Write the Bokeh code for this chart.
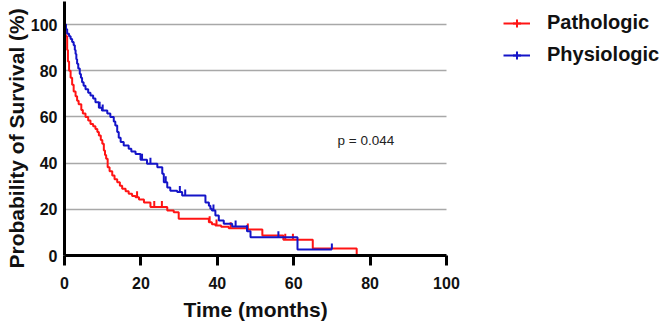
import numpy as np
from bokeh.plotting import figure
from bokeh.models import Legend, LegendItem, Label, FixedTicker, Range1d, Title
from bokeh.embed import file_html
from bokeh.resources import INLINE

# ---- data ----
path_t = [0, 0.3, 0.7, 0.9, 1.2, 1.6, 2.0, 2.4, 2.9, 3.3, 3.7, 4.4, 4.8, 5.5, 6.2, 6.8, 7.5, 8.1, 8.6,
          9.0, 9.5, 9.9, 10.3, 10.6, 10.9, 11.3, 11.8, 12.5, 13.1, 13.8, 14.5, 15.1, 16.0, 16.8, 17.7,
          18.6, 19.5, 20.8, 22.5, 26.9, 28.6, 29.9, 37.8, 38.6, 39.5, 41.0, 43.0, 47.8, 51.8, 57.3,
          65.0, 76.5]
path_s = [100, 95, 89, 84, 80, 77, 74, 71, 69, 67, 65.5, 63, 61.5, 60, 58.5, 57, 56, 54.8, 53.5,
          52, 50, 48.4, 45.5, 43.5, 41.9, 38.2, 36.5, 34.6, 33, 31.7, 30.2, 28.9, 27.8, 26.7, 25.8,
          25.2, 24.2, 23, 21, 19.5, 18.7, 15.9, 14.4, 13.5, 13, 12.4, 11.8, 11.3, 8.7, 6.8,
          3, 0]
path_cens = [19.0, 23.5, 25.5, 38.0, 39.8, 43.5, 48.0, 57.8, 59.8]

phys_t = [0, 0.4, 0.7, 1.2, 1.6, 2.0, 2.4, 2.7, 2.9, 3.1, 3.3, 3.6, 4.0, 4.3, 4.6, 5.0, 5.5, 6.2,
          6.8, 7.5, 8.1, 9.0, 9.8, 11.2, 12.0, 12.9, 13.3, 13.8, 14.2, 14.7, 15.5, 16.8, 17.5, 18.6,
          19.9, 21.6, 24.3, 25.6, 26.0, 26.9, 27.7, 29.5, 30.8, 36.9, 37.8, 38.2, 38.6, 39.5, 40.4,
          41.7, 43.9, 47.8, 48.7, 61.0]
phys_s = [100, 98, 96, 95, 93.8, 92.5, 91, 89, 87.3, 85, 83, 81, 78.6, 77, 75, 73.5, 72, 70.5,
          69.3, 68, 66.4, 64, 62.8, 61.5, 60, 58, 56.3, 53.5, 51, 49.1, 47.6, 46.2, 45, 44,
          41.5, 39.7, 38.2, 35.4, 31.7, 29.5, 28, 27.5, 26, 23, 21.5, 20.2, 19.5, 17.3, 15.2,
          13.7, 12.6, 10.5, 7.9, 2.6]
phys_cens = [9.2, 10.0, 20.3, 22.5, 26.5, 30.2, 31.6, 39.0, 44.8, 47.8, 56.0, 70.0]

x_ticks = [0, 20, 40, 60, 80, 100]
y_ticks = [0, 20, 40, 60, 80, 100]
p_text = "p = 0.044"

RED = "#ff1414"
BLUE = "#1414c8"
TICK_H = 2.6  # censor tick height in survival units
X_MAX = 100
X_VIEW = 156.3  # frame extends to the right to hold the legend

p = figure(width=661, height=324, output_backend="svg", toolbar_location=None,
           x_range=Range1d(0, X_VIEW), y_range=Range1d(0, 110),
           min_border_left=64, min_border_right=0, min_border_top=1, min_border_bottom=69)
p.outline_line_color = None
p.background_fill_color = "white"

def surv_at(ts, ss, t):
    i = np.searchsorted(np.array(ts), t, side="right") - 1
    return ss[i]

def draw(ts, ss, cens, color):
    xs = list(ts) + ([max(cens)] if max(cens) > ts[-1] else [])
    ys = list(ss) + ([ss[-1]] if max(cens) > ts[-1] else [])
    p.step(xs, ys, mode="after", line_color=color, line_width=2)
    cy = [surv_at(ts, ss, c) for c in cens]
    p.segment(x0=cens, y0=cy, x1=cens, y1=[v + TICK_H for v in cy], line_color=color, line_width=2)

draw(path_t, path_s, path_cens, RED)
draw(phys_t, phys_s, phys_cens, BLUE)

# legend sample glyphs (outside visible range)
la = p.line([-10, -9], [-10, -10], line_color=RED, line_width=2)
lb = p.scatter([-10], [-10], marker="cross", size=8, line_color=RED, line_width=2)
lc = p.line([-10, -9], [-10, -10], line_color=BLUE, line_width=2)
ld = p.scatter([-10], [-10], marker="cross", size=8, line_color=BLUE, line_width=2)

legend = Legend(items=[LegendItem(label="Pathologic", renderers=[la, lb]),
                       LegendItem(label="Physiologic", renderers=[lc, ld])],
                location=(439, 189), orientation="vertical")
legend.label_text_font = "Liberation Sans"
legend.label_text_font_style = "bold"
legend.label_text_font_size = "20px"
legend.label_text_color = "#111111"
legend.glyph_width = 27
legend.glyph_height = 20
legend.label_height = 20
legend.label_standoff = 17
legend.spacing = 9
legend.padding = 0
legend.margin = 0
legend.border_line_color = None
legend.background_fill_alpha = 0
p.add_layout(legend, "center")

p.add_layout(Label(x=71.5, y=49.8, text=p_text, text_font="Liberation Sans", text_font_size="13.5px",
                   text_color="#222222", text_baseline="middle", text_align="left"))

for ax in (p.xaxis[0], p.yaxis[0]):
    ax.axis_line_width = 3
    ax.axis_line_color = "black"
    ax.major_label_text_font = "Liberation Sans"
    ax.major_label_text_font_style = "bold"
    ax.major_label_text_font_size = "16px"
    ax.major_label_text_color = "#111111"
    ax.minor_tick_line_color = None

p.xaxis.ticker = FixedTicker(ticks=x_ticks)
p.xaxis.bounds = (0, X_MAX)
p.yaxis.ticker = FixedTicker(ticks=y_ticks)
p.xaxis.major_tick_in = 0
p.xaxis.major_tick_out = 10
p.xaxis.major_tick_line_width = 3
p.xaxis.major_label_standoff = 11
p.yaxis.major_tick_in = 0
p.yaxis.major_tick_out = 0
p.yaxis.major_label_standoff = 7

ytitle = Title(text="Probability of Survival (%)", align="left", offset=-13,
               text_font="Liberation Sans", text_font_style="bold", text_font_size="21px",
               text_color="#111111", standoff=0)
p.add_layout(ytitle, "left")

xtitle = Title(text="Time (months)", align="left", offset=119,
               text_font="Liberation Sans", text_font_style="bold", text_font_size="21px",
               text_color="#111111", standoff=8)
p.add_layout(xtitle, "below")

p.xgrid.grid_line_color = None
p.ygrid.ticker = FixedTicker(ticks=[20, 40, 60, 80, 100])
p.ygrid.cross_bounds = (0, X_MAX)
p.ygrid.grid_line_color = "#a8a8a8"
p.ygrid.grid_line_width = 1.5

open("out.html", "w").write(file_html(p, INLINE))
